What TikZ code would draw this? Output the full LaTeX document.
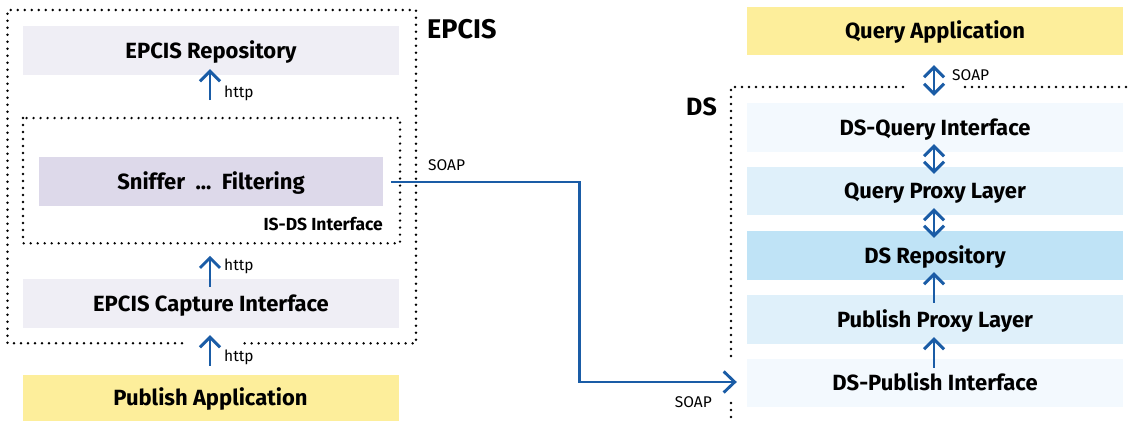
\documentclass[tikz,border=0pt]{standalone}
\usepackage{fontspec}
\setmainfont{Fira Sans}
\usetikzlibrary{arrows.meta,calc}

\definecolor{epcisgray}{HTML}{EFEEF5}
\definecolor{snifferlav}{HTML}{DDD9EA}
\definecolor{appyellow}{HTML}{FDEE9B}
\definecolor{dspale}{HTML}{F3F9FE}
\definecolor{dslight}{HTML}{DFF0FA}
\definecolor{dsmid}{HTML}{BFE3F6}
\definecolor{arrowblue}{HTML}{1A5CA6}

\tikzset{
  layer/.style={minimum width=376pt, minimum height=49pt, inner sep=0pt,
    font=\fontsize{22}{26}\selectfont\bfseries, text height=15pt, text depth=0pt},
  lbl/.style={inner sep=0pt, font=\fontsize{15.5}{18}\selectfont},
  title/.style={inner sep=0pt, font=\fontsize{27}{30}\selectfont\bfseries},
  dotline/.style={line width=2.7pt, dash pattern=on 0pt off 7pt, line cap=round},
  conn/.style={draw=arrowblue, line width=2.9pt},
  tipup/.style={conn, -{Straight Barb[length=10pt,width=20pt]}},
  tipboth/.style={conn, {Straight Barb[length=10pt,width=20pt]}-{Straight Barb[length=10pt,width=20pt]}},
}

\begin{document}
\begin{tikzpicture}[x=1pt,y=-1pt]
\useasboundingbox (0,0) rectangle (1131,421);

% ---------- EPCIS side ----------
\node[layer, fill=epcisgray] (repo) at (211,50.5) {EPCIS Repository};
\node[layer, fill=snifferlav, minimum width=344pt] (sniffer) at (211,181.5) {Sniffer\ \ ...\ \ Filtering};
\node[layer, fill=epcisgray] (capture) at (211,303.5) {EPCIS Capture Interface};
\node[layer, fill=appyellow, minimum height=46pt] (pubapp) at (210.5,398) {Publish Application};

\node[title, anchor=base west] (epcis) at (427,38) {EPCIS};
\node[inner sep=0pt, anchor=base east, font=\fontsize{17.5}{20}\selectfont\bfseries] (isds) at (383,230) {IS-DS Interface};

% dotted boundaries
\draw[dotline] (182,343.3) -- (7.5,343.3) -- (7.5,10) -- (416,10) -- (416,343.3) -- (240,343.3);
\draw[dotline] (23,118) rectangle (400,243.3);

% http arrows
\draw[tipup] ($(repo.south)+(-1,25)$) -- ($(repo.south)+(-1,-6)$);
\node[lbl, anchor=base west] (http1) at (224,97.5) {http};
\draw[tipup] ($(capture.north)+(-1,8)$) -- ($(capture.north)+(-1,-23)$);
\node[lbl, anchor=base west] (http2) at (224,270) {http};
\draw[tipup] ($(pubapp.north)+(-0.5,-9)$) -- ($(capture.south)+(-1,7)$);
\node[lbl, anchor=base west] (http3) at (224,361.5) {http};

% ---------- DS side ----------
\node[layer, fill=appyellow, minimum height=48pt] (qapp) at (935,31) {Query Application};
\node[layer, fill=dspale] (dsq) at (935,127.5) {DS-Query Interface};
\node[layer, fill=dslight, minimum height=48pt] (qproxy) at (935,191) {Query Proxy Layer};
\node[layer, fill=dsmid] (dsrepo) at (935,255.5) {DS Repository};
\node[layer, fill=dslight] (pproxy) at (935,319.5) {Publish Proxy Layer};
\node[layer, fill=dspale, minimum height=48pt] (dspub) at (935,383) {DS-Publish Interface};

\node[title, anchor=base east, font=\fontsize{25}{28}\selectfont\bfseries] (ds) at (717,115) {DS};

\draw[dotline] (903,87) -- (731,87) -- (731,357);
\draw[dotline] (965,87) -- (1135,87);
\draw[dotline] (731,403) -- (731,425);

\draw[tipboth] ($(qapp.south)+(-1,10)$) -- ($(dsq.north)+(-1,-7)$);
\node[lbl, anchor=base west] (soap3) at (952,80) {SOAP};
\draw[tipboth] ($(dsq.south)+(-1,-8)$) -- ($(qproxy.north)+(-1,7)$);
\draw[tipboth] ($(qproxy.south)+(-1,-7)$) -- ($(dsrepo.north)+(-1,7)$);
\draw[tipup] ($(pproxy.north)+(-1,8)$) -- ($(dsrepo.south)+(-1,-8)$);
\draw[tipup] ($(dspub.north)+(-1,9)$) -- ($(pproxy.south)+(-1,-7)$);

% ---------- SOAP link from the sniffer to the DS ----------
\draw[conn, -{Straight Barb[length=11pt,width=21pt]}]
  ($(sniffer.east)+(8,0.5)$) -- ++(188,0) |- ($(dspub.west)+(-10,-1)$);
\node[lbl, anchor=base west] (soap1) at (428,170.5) {SOAP};
\node[lbl, anchor=base east] (soap2) at (712,407) {SOAP};

\end{tikzpicture}
\end{document}
